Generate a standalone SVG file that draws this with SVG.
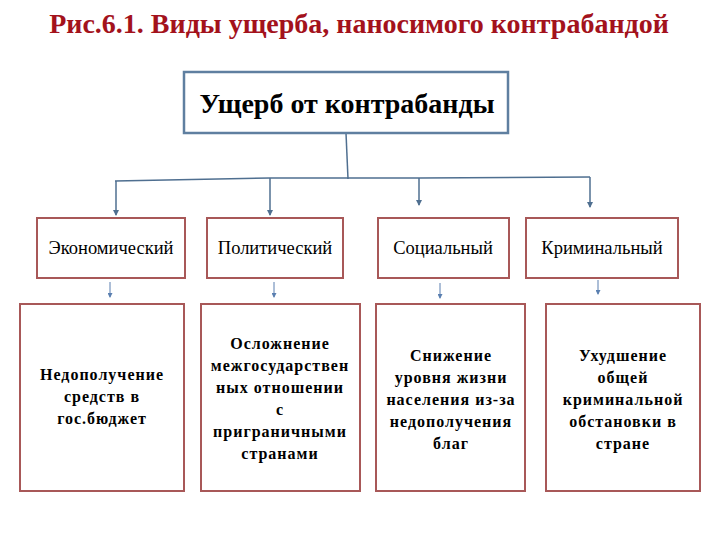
<svg xmlns="http://www.w3.org/2000/svg" width="720" height="540" viewBox="0 0 720 540">
<defs>
<marker id="ah" markerWidth="6" markerHeight="6" refX="5" refY="3" orient="auto" markerUnits="userSpaceOnUse">
<path d="M0,0 L6,3 L0,6 Z" fill="#4f6f90"/>
</marker>
<marker id="ah2" markerWidth="5" markerHeight="5" refX="4" refY="2.5" orient="auto" markerUnits="userSpaceOnUse">
<path d="M0,0 L5,2.5 L0,5 Z" fill="#5a7fb0"/>
</marker>
</defs>
<g id="title">
<text font-family="'Liberation Serif', 'Times New Roman', serif" font-weight="bold" font-size="28" fill="#a3121c" text-anchor="middle" x="359" y="33">Рис.6.1. Виды ущерба, наносимого контрабандой</text>
</g>
<g id="connectors" fill="none">
<g stroke="#4f6f90" stroke-width="1.5">
<path d="M346,133 L348,179"/>
<path d="M115,181 L270,178 L420,178 L590,177"/>
<path d="M116,181 L116,215" marker-end="url(#ah)"/>
<path d="M270,178 L270,215" marker-end="url(#ah)"/>
<path d="M419,178 L419,205" marker-end="url(#ah)"/>
<path d="M590,177 L590,207" marker-end="url(#ah)"/>
</g>
<g stroke="#5a7fb0" stroke-width="1">
<path d="M110,282 L110,297" marker-end="url(#ah2)"/>
<path d="M274,282 L274,297" marker-end="url(#ah2)"/>
<path d="M440,283 L440,298" marker-end="url(#ah2)"/>
<path d="M598,280 L598,294" marker-end="url(#ah2)"/>
</g>
</g>
<g id="root">
<rect x="184" y="72" width="324" height="61" fill="#fff" stroke="#5f7fa0" stroke-width="2.5"/>
<text font-family="'Liberation Serif', 'Times New Roman', serif" font-weight="bold" font-size="28" text-anchor="middle" x="347" y="113">Ущерб от контрабанды</text>
</g>
<g fill="#fff" stroke="#a85858" stroke-width="2">
<g id="econ"><rect x="37" y="218" width="148" height="60"/></g>
<g id="polit"><rect x="207" y="218" width="136" height="60"/></g>
<g id="social"><rect x="378" y="218" width="131" height="60"/></g>
<g id="crim"><rect x="526" y="218" width="152" height="60"/></g>
<g id="econ-d"><rect x="20" y="304" width="164" height="187"/></g>
<g id="polit-d"><rect x="201" y="304" width="159" height="187"/></g>
<g id="social-d"><rect x="376" y="304" width="149" height="187"/></g>
<g id="crim-d"><rect x="546" y="304" width="154" height="187"/></g>
</g>
<g id="labels" font-family="'Liberation Serif', 'Times New Roman', serif" font-size="18.5" fill="#000" text-anchor="middle">
<text x="111" y="254">Экономический</text>
<text x="275" y="254">Политический</text>
<text x="443" y="254">Социальный</text>
<text x="602" y="254">Криминальный</text>
</g>
<g id="descs" font-family="'Liberation Serif', 'Times New Roman', serif" font-weight="bold" font-size="16" fill="#000" text-anchor="middle" letter-spacing="1">
<text x="102" y="380">Недополучение</text>
<text x="102" y="402">средств в</text>
<text x="102" y="424">гос.бюджет</text>
<text x="280" y="349">Осложнение</text>
<text x="280" y="371">межгосударствен</text>
<text x="280" y="393">ных отношении</text>
<text x="280" y="415">с</text>
<text x="280" y="437">приграничными</text>
<text x="280" y="459">странами</text>
<text x="451" y="361">Снижение</text>
<text x="451" y="383">уровня жизни</text>
<text x="451" y="405">населения из-за</text>
<text x="451" y="427">недополучения</text>
<text x="451" y="449">благ</text>
<text x="623" y="361">Ухудшение</text>
<text x="623" y="383">общей</text>
<text x="623" y="405">криминальной</text>
<text x="623" y="427">обстановки в</text>
<text x="623" y="449">стране</text>
</g>
</svg>
